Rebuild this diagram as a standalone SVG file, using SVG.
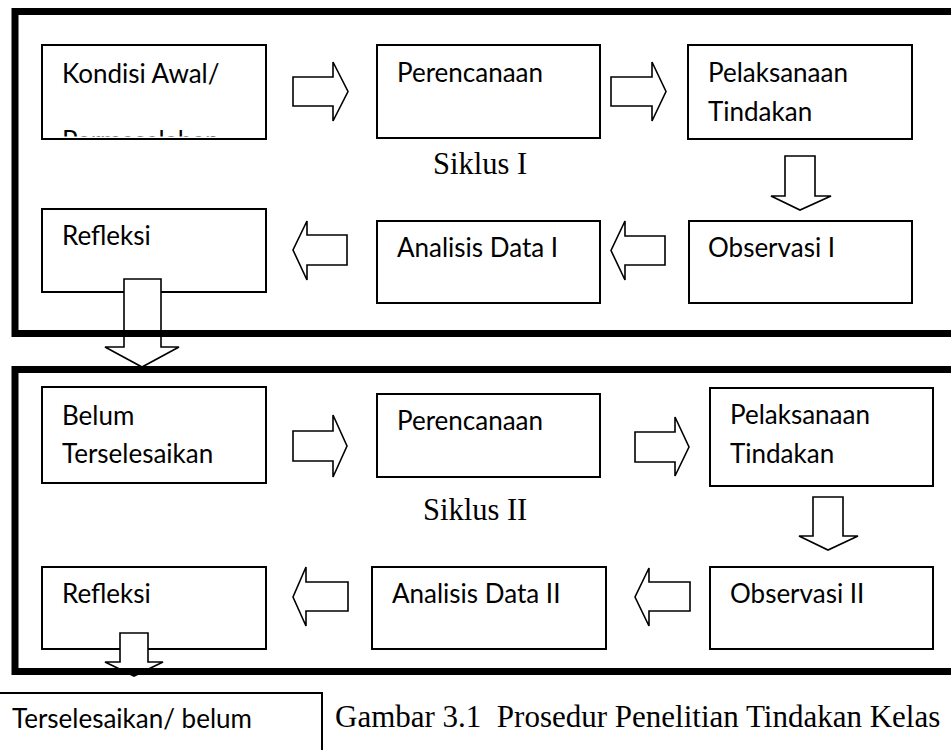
<svg xmlns="http://www.w3.org/2000/svg" width="951" height="750" viewBox="0 0 951 750">
<style>
.box{fill:#fff;stroke:#000;stroke-width:2}
.lbl{font-family:Lato,"Open Sans","Liberation Sans",sans-serif;font-size:26px;fill:#000}
.cap{font-family:"Liberation Serif","Times New Roman",serif;font-size:30.5px;fill:#000}
.arr{fill:#fff;stroke:#000;stroke-width:1.6;stroke-linejoin:miter}
.frame{fill:none;stroke:#000;stroke-width:7}
</style>
<defs>
<clipPath id="clipKondisi"><rect x="42" y="45" width="224" height="91.5"/></clipPath>
</defs>
<rect width="951" height="750" fill="#fff"/>

<g id="kondisi"><rect class="box" x="42" y="45" width="224" height="94"/>
<text class="lbl" x="62" y="83">Kondisi Awal/</text>
<text class="lbl" x="62" y="149.5" clip-path="url(#clipKondisi)">Permasalahan</text></g>
<g id="perencanaan1"><rect class="box" x="377" y="45" width="223" height="93"/><text class="lbl" x="397" y="82">Perencanaan</text></g>
<g id="pelaksanaan1"><rect class="box" x="688" y="45" width="224" height="94"/><text class="lbl" x="708" y="82">Pelaksanaan</text><text class="lbl" x="708" y="121">Tindakan</text></g>
<g id="refleksi1"><rect class="box" x="42" y="209" width="224" height="83"/><text class="lbl" x="62" y="245">Refleksi</text></g>
<g id="analisis1"><rect class="box" x="377" y="221" width="223" height="82"/><text class="lbl" x="397" y="257">Analisis Data I</text></g>
<g id="observasi1"><rect class="box" x="689" y="221" width="223" height="82"/><text class="lbl" x="708" y="257">Observasi I</text></g>
<g id="siklus1"><text class="cap" x="433" y="174">Siklus I</text></g>

<g id="belum"><rect class="box" x="42" y="387" width="224" height="96"/><text class="lbl" x="62" y="425">Belum</text><text class="lbl" x="62" y="463">Terselesaikan</text></g>
<g id="perencanaan2"><rect class="box" x="377" y="394" width="223" height="83"/><text class="lbl" x="397" y="430">Perencanaan</text></g>
<g id="pelaksanaan2"><rect class="box" x="710" y="388" width="223" height="98"/><text class="lbl" x="730" y="424">Pelaksanaan</text><text class="lbl" x="730" y="463">Tindakan</text></g>
<g id="refleksi2"><rect class="box" x="42" y="567" width="224" height="82"/><text class="lbl" x="62" y="603">Refleksi</text></g>
<g id="analisis2"><rect class="box" x="372" y="567" width="234" height="82"/><text class="lbl" x="392" y="603">Analisis Data II</text></g>
<g id="observasi2"><rect class="box" x="710" y="567" width="223" height="82"/><text class="lbl" x="730" y="603">Observasi II</text></g>
<g id="siklus2"><text class="cap" x="423" y="520">Siklus II</text></g>

<g id="hasil"><path d="M-5,693 H322 V755" fill="none" stroke="#000" stroke-width="2"/><text class="lbl" x="12" y="728">Terselesaikan/ belum</text></g>
<g id="caption"><text class="cap" x="335" y="727" style="font-size:31px" xml:space="preserve">Gambar 3.1  Prosedur Penelitian Tindakan Kelas</text></g>

<g id="connectors">
<path class="arr" d="M293,77 H333 V62 L348,91.5 L333,121 V106 H293 Z"/>
<path class="arr" d="M611,77 H652 V62 L666,91.5 L652,121 V106 H611 Z"/>
<path class="arr" d="M785,156 H815 V196 H831 L800,210 L771,196 H785 Z"/>
<path class="arr" d="M665,236 H625 V221 L611,250.5 L625,280 V265 H665 Z"/>
<path class="arr" d="M347,235 H307 V221 L293,250 L307,280 V265 H347 Z"/>
<path class="arr" d="M124,279 H161 V347 H179 L142,367 L105,347 H124 Z"/>
<path class="arr" d="M293,431 H333 V415 L347,446 L333,477 V461 H293 Z"/>
<path class="arr" d="M635,432 H675 V417 L689,447 L675,476 V462 H635 Z"/>
<path class="arr" d="M813,497 H843 V536 H858 L828,550 L799,536 H813 Z"/>
<path class="arr" d="M690,582 H649 V568 L635,597 L649,626 V611 H690 Z"/>
<path class="arr" d="M348,582 H306 V567 L293,597 L306,626 V611 H348 Z"/>
<path class="arr" d="M120,633 H148 V662 H163 L134,676 L105,662 H120 Z"/>
</g>

<g id="frames">
<path class="frame" d="M960,11.5 H15 V333.5 H960"/>
<path class="frame" d="M960,369.5 H15 V671.5 H960"/>
</g>
</svg>
